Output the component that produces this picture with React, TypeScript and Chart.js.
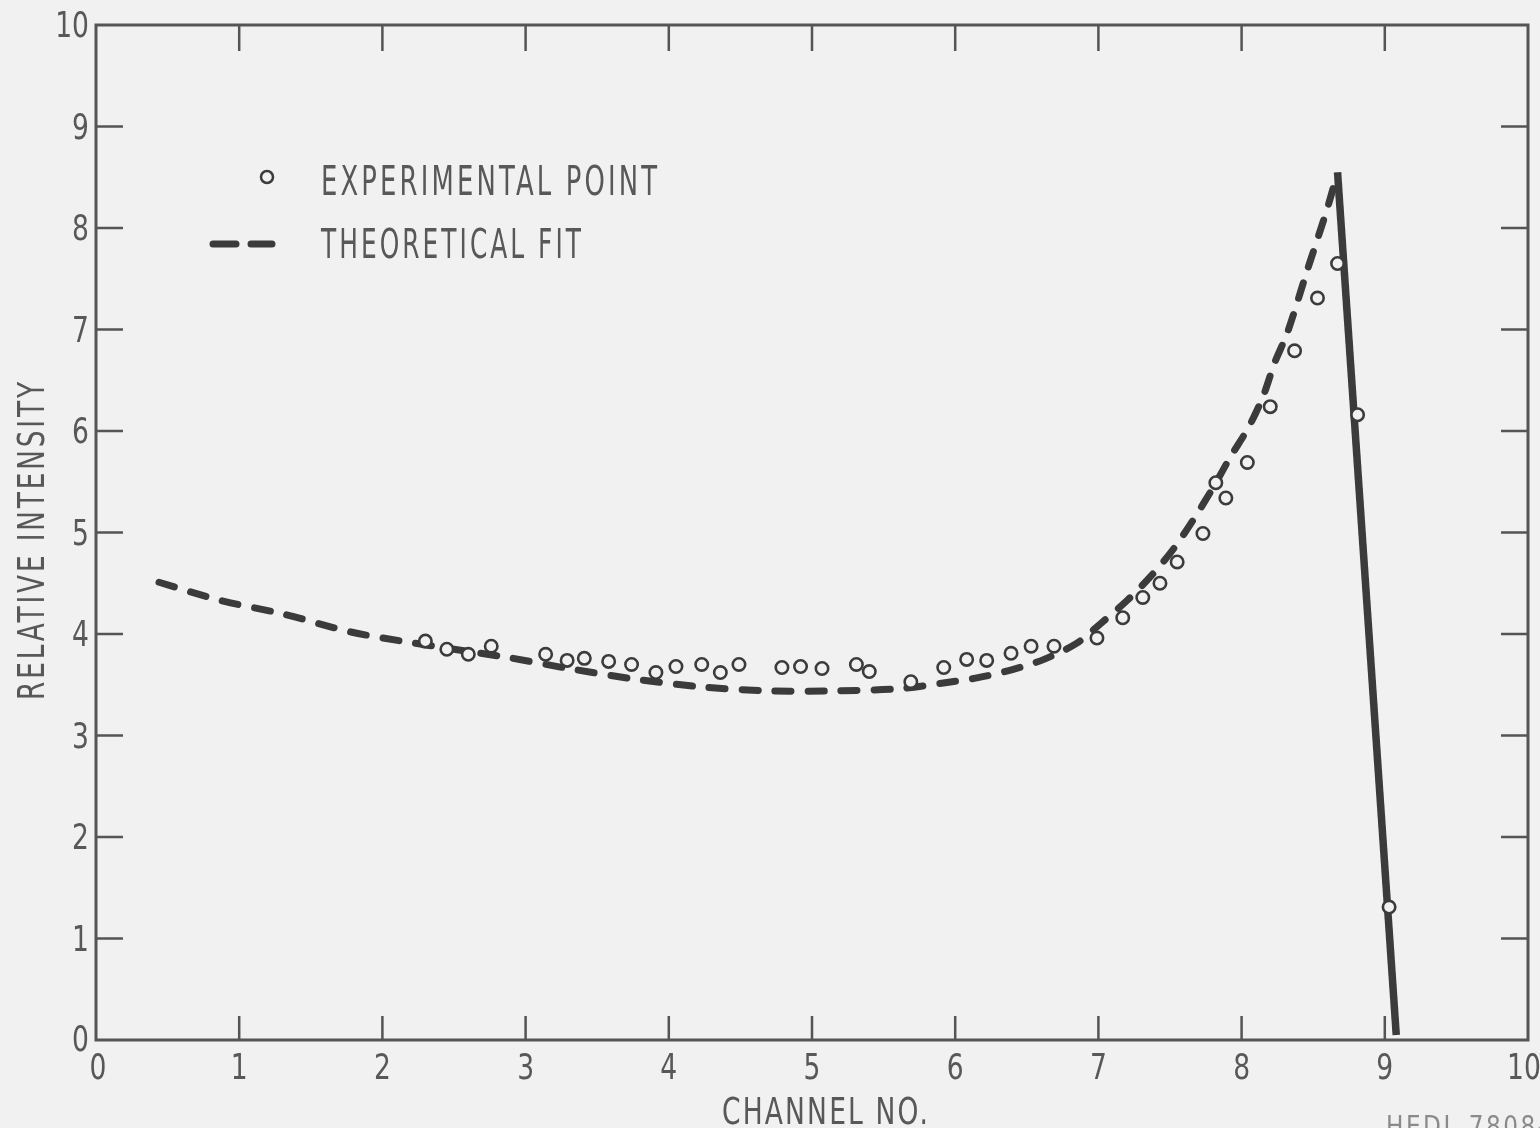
import React, { useEffect, useRef } from "react";
import { Chart, registerables } from "chart.js";

Chart.register(...registerables);

// Experimental points (channel no., relative intensity)
const expX = [2.30, 2.45, 2.60, 2.76, 3.14, 3.29, 3.41, 3.58, 3.74, 3.91, 4.05, 4.23, 4.36, 4.49, 4.79, 4.92, 5.07, 5.31, 5.40, 5.69, 5.92, 6.08, 6.22, 6.39, 6.53, 6.69, 6.99, 7.17, 7.31, 7.43, 7.55, 7.73, 7.82, 7.89, 8.04, 8.20, 8.37, 8.53, 8.67, 8.81, 9.03];
const expY = [3.93, 3.85, 3.80, 3.88, 3.80, 3.74, 3.76, 3.73, 3.70, 3.62, 3.68, 3.70, 3.62, 3.70, 3.67, 3.68, 3.66, 3.70, 3.63, 3.53, 3.67, 3.75, 3.74, 3.81, 3.88, 3.88, 3.96, 4.16, 4.36, 4.50, 4.71, 4.99, 5.49, 5.34, 5.69, 6.24, 6.79, 7.31, 7.65, 6.16, 1.31];

// Theoretical fit (dashed)
const fitX = [0.44, 0.87, 1.30, 1.78, 2.18, 2.50, 2.87, 3.30, 3.74, 4.22, 4.70, 5.14, 5.60, 5.93, 6.16, 6.40, 6.62, 6.85, 7.03, 7.20, 7.36, 7.52, 7.66, 7.80, 7.92, 8.05, 8.15, 8.23, 8.32, 8.46, 8.60, 8.67];
const fitY = [4.51, 4.33, 4.20, 4.02, 3.92, 3.85, 3.77, 3.66, 3.56, 3.48, 3.44, 3.44, 3.46, 3.52, 3.57, 3.65, 3.75, 3.91, 4.12, 4.33, 4.56, 4.83, 5.12, 5.44, 5.74, 6.04, 6.34, 6.67, 6.97, 7.59, 8.20, 8.55];

// Solid drop after the peak
const dropX = [8.67, 9.08];
const dropY = [8.55, 0.05];

const xTicks = [0, 1, 2, 3, 4, 5, 6, 7, 8, 9, 10];
const yTicks = [0, 1, 2, 3, 4, 5, 6, 7, 8, 9, 10];

const BG = "#f1f1f1";
const INK = "#3b3b3b";
const AXIS = "#555555";
const TEXT = "#585858";
const FONT = '"DejaVu Sans", "Liberation Sans", sans-serif';

function fitText(ctx: CanvasRenderingContext2D, text: string, x: number, y: number, size: number, width: number, spacing = 0) {
  ctx.save();
  ctx.font = `${size}px ${FONT}`;
  (ctx as any).letterSpacing = `${spacing}px`;
  const m = ctx.measureText(text).width - spacing;
  const s = width / m;
  ctx.translate(x, y);
  ctx.scale(s, 1);
  ctx.textAlign = "left";
  ctx.textBaseline = "alphabetic";
  ctx.fillText(text, 0, 0);
  ctx.restore();
}

function scaledText(ctx: CanvasRenderingContext2D, text: string, x: number, y: number, size: number, sx: number, align: CanvasTextAlign) {
  ctx.save();
  ctx.font = `${size}px ${FONT}`;
  ctx.translate(x, y);
  ctx.scale(sx, 1);
  ctx.textAlign = align;
  ctx.textBaseline = "middle";
  ctx.fillText(text, 0, 0);
  ctx.restore();
}

const framePlugin = {
  id: "frameTicks",
  beforeDatasetsDraw(chart: any) {
    const ctx: CanvasRenderingContext2D = chart.ctx;
    const { left, right, top, bottom } = chart.chartArea;
    const xs = chart.scales.x;
    const ys = chart.scales.y;
    ctx.save();
    ctx.strokeStyle = AXIS;
    ctx.lineWidth = 3;
    ctx.strokeRect(left, top, right - left, bottom - top);
    ctx.lineWidth = 2.5;
    ctx.beginPath();
    xTicks.slice(1, -1).forEach((v) => {
      const px = xs.getPixelForValue(v);
      ctx.moveTo(px, bottom);
      ctx.lineTo(px, bottom - 24);
      ctx.moveTo(px, top);
      ctx.lineTo(px, top + 26);
    });
    yTicks.slice(1, -1).forEach((v) => {
      const py = ys.getPixelForValue(v);
      ctx.moveTo(left, py);
      ctx.lineTo(left + 27, py);
      ctx.moveTo(right, py);
      ctx.lineTo(right - 27, py);
    });
    ctx.stroke();
    ctx.restore();
  },
  afterDraw(chart: any) {
    const ctx: CanvasRenderingContext2D = chart.ctx;
    const { left, bottom } = chart.chartArea;
    const xs = chart.scales.x;
    const ys = chart.scales.y;
    ctx.save();
    ctx.fillStyle = TEXT;
    // x tick labels
    xTicks.forEach((v) => {
      const px = xs.getPixelForValue(v);
      scaledText(ctx, String(v), v === 10 ? px - 4 : px + (v === 0 ? 2 : 0), bottom + 30, 35, 0.76, "center");
    });
    // y tick labels
    yTicks.forEach((v) => {
      const py = ys.getPixelForValue(v);
      scaledText(ctx, String(v), left - 7, py + (v === 0 ? 2 : 3), 35, 0.76, "right");
    });
    // axis titles
    fitText(ctx, "CHANNEL NO.", 722, 1124, 37, 206, 3);
    ctx.save();
    ctx.translate(44, 700);
    ctx.rotate(-Math.PI / 2);
    fitText(ctx, "RELATIVE INTENSITY", 0, 0, 37, 318, 4);
    ctx.restore();

    // legend
    ctx.strokeStyle = INK;
    ctx.lineWidth = 2.5;
    ctx.beginPath();
    ctx.arc(267, 177, 6, 0, Math.PI * 2);
    ctx.stroke();
    ctx.lineWidth = 7;
    ctx.lineCap = "round";
    ctx.beginPath();
    ctx.moveTo(213, 244);
    ctx.lineTo(236, 244);
    ctx.moveTo(251, 244);
    ctx.lineTo(272, 244);
    ctx.stroke();
    ctx.fillStyle = TEXT;
    fitText(ctx, "EXPERIMENTAL POINT", 321, 195, 41, 336, 5);
    fitText(ctx, "THEORETICAL FIT", 321, 258, 41, 260, 5);

    // document code (cut off at page edge)
    ctx.fillStyle = "#8a8a8a";
    fitText(ctx, "HEDL 7808-", 1386, 1136, 28, 160, 3);
    ctx.restore();
  },
};

export default function App() {
  const ref = useRef<HTMLCanvasElement | null>(null);
  useEffect(() => {
    if (!ref.current) return;
    const expData = expX.map((x, i) => ({ x, y: expY[i] }));
    const fitData = fitX.map((x, i) => ({ x, y: fitY[i] }));
    const dropData = dropX.map((x, i) => ({ x, y: dropY[i] }));
    const chart = new Chart(ref.current, {
      type: "scatter",
      data: {
        datasets: [
          {
            label: "EXPERIMENTAL POINT",
            data: expData,
            pointStyle: "circle",
            pointRadius: 6.2,
            pointBorderWidth: 2.6,
            pointBorderColor: INK,
            pointBackgroundColor: BG,
            showLine: false,
            order: 0,
          },
          {
            label: "THEORETICAL FIT",
            data: fitData,
            showLine: true,
            pointRadius: 0,
            borderColor: INK,
            borderWidth: 7,
            borderDash: [16, 17],
            borderCapStyle: "round",
            tension: 0.3,
            order: 1,
          },
          {
            label: "drop",
            data: dropData,
            showLine: true,
            pointRadius: 0,
            borderColor: INK,
            borderWidth: 7.5,
            borderCapStyle: "butt",
            tension: 0,
            order: 2,
          },
        ],
      },
      options: {
        responsive: false,
        animation: false,
        devicePixelRatio: 1,
        layout: { padding: { left: 96, top: 25, right: 12, bottom: 88 } },
        scales: {
          x: { type: "linear", min: 0, max: 10, display: false },
          y: { type: "linear", min: 0, max: 10, display: false },
        },
        plugins: {
          legend: { display: false },
          tooltip: { enabled: false },
        },
      },
      plugins: [framePlugin],
    } as any);
    return () => chart.destroy();
  }, []);
  return (
    <div style={{ position: "absolute", left: 0, top: 0, width: 1540, height: 1128, background: BG, overflow: "hidden" }}>
      <canvas ref={ref} width={1540} height={1128} style={{ display: "block" }} />
    </div>
  );
}
